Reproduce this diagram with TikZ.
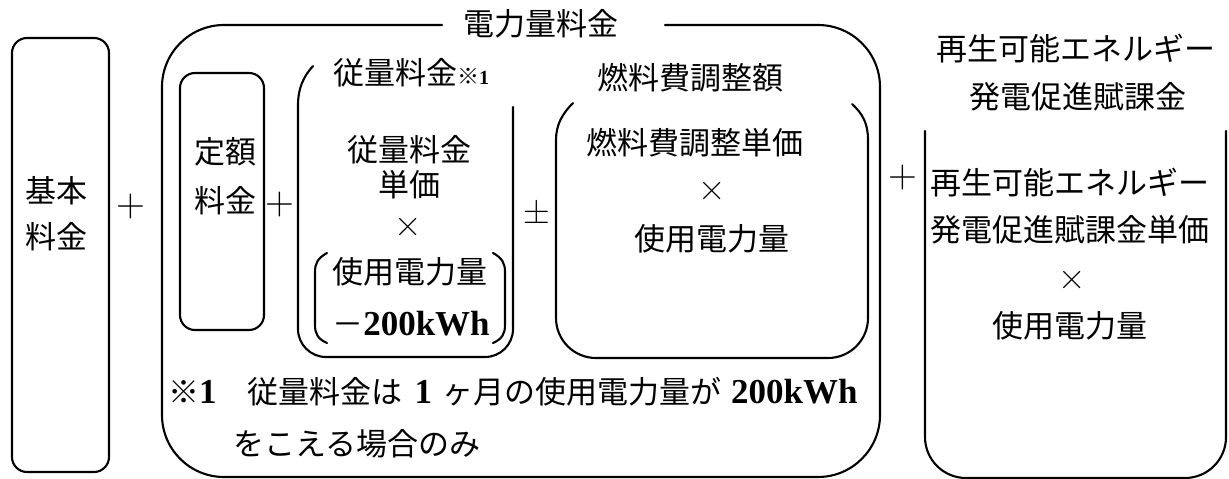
\documentclass[tikz,border=0pt]{standalone}
\usepackage{fontspec}
\newfontfamily\jp{Noto Sans CJK JP}
\newfontfamily\lib{Liberation Serif}
\newfontfamily\lmr{Latin Modern Roman}
\begin{document}
\begin{tikzpicture}[x=1pt,y=1pt,
  ln/.style={line width=2.1pt, line join=round, line cap=round},
  jtxt/.style={font=\jp\fontsize{31}{31}\selectfont, inner sep=0pt},
  sym/.style={font=\lmr\fontsize{40}{40}\selectfont, inner sep=0pt},
  num/.style={font=\lib\bfseries\fontsize{35}{35}\selectfont}]
\useasboundingbox (0,0) rectangle (1229,-479);

% --- boxes ---
\draw[ln, rounded corners=15] (12,-38) rectangle (109,-472);
\draw[ln, rounded corners=62] (442,-25) -- (162,-25) -- (162,-477) -- (880,-477) -- (880,-25) -- (665,-25);
\draw[ln, rounded corners=15] (180,-73) rectangle (264,-330);
% juuryou box (open top)
\draw[ln] (313,-66) .. controls (303,-77) and (298,-89) .. (298,-105)
  -- (298,-329) arc[start angle=180, end angle=270, radius=28]
  -- (485,-357) arc[start angle=270, end angle=360, radius=28]
  -- (513,-107);
% parentheses
\draw[ln] (327,-253) .. controls (318,-258) and (315,-263) .. (315,-272)
  -- (315,-325) .. controls (315,-334) and (318,-339) .. (327,-343);
\draw[ln] (493,-253) .. controls (502,-258) and (505,-263) .. (505,-272)
  -- (505,-325) .. controls (505,-334) and (502,-339) .. (493,-343);
% fuel box
\draw[ln] (573,-103) .. controls (562,-114) and (556,-125) .. (556,-140)
  -- (556,-318) arc[start angle=180, end angle=270, radius=40]
  -- (828,-358) arc[start angle=270, end angle=360, radius=40]
  -- (868,-140) .. controls (868,-124) and (863,-114) .. (852,-104);
% renewable box
\draw[ln] (925,-131) -- (925,-437) arc[start angle=180, end angle=270, radius=41]
  -- (1185,-478) arc[start angle=270, end angle=360, radius=41] -- (1226,-131);

% --- texts ---
\node[jtxt] (k1) at (56,-191) {基本};
\node[jtxt] (k2) at (56,-237) {料金};
\node[sym] (p1) at (131,-207) {+};
\node[jtxt] (title) at (541,-24) {電力量料金};
\node[jtxt] (t1) at (225,-152) {定額};
\node[jtxt] (t2) at (225,-201) {料金};
\node[sym] (p2) at (280,-205) {+};
\node[anchor=base west, inner sep=0pt] (jtitle) at (333,-84)
  {{\jp\fontsize{31}{31}\selectfont 従量料金}{\jp\fontsize{22}{22}\selectfont ※}{\lib\bfseries\fontsize{20}{20}\selectfont 1}};
\node[jtxt] (j1) at (409,-150) {従量料金};
\node[jtxt] (j2) at (409,-185) {単価};
\node[sym, font=\lmr\fontsize{38}{38}\selectfont] (j3) at (408,-227) {×};
\node[jtxt] (j4) at (410,-272) {使用電力量};
\node[anchor=base, inner sep=0pt] (j5) at (411,-335)
  {{\jp\fontsize{31}{31}\selectfont －}{\lib\bfseries\fontsize{35}{35}\selectfont 200kWh}};
\node[sym, font=\lmr\fontsize{37}{37}\selectfont] (pm) at (537,-212) {±};
\node[jtxt] (ftitle) at (690,-78) {燃料費調整額};
\node[jtxt] (f1) at (695,-143) {燃料費調整単価};
\node[sym, font=\lmr\fontsize{38}{38}\selectfont] (f2) at (712,-191) {×};
\node[jtxt] (f3) at (712,-239) {使用電力量};
\node[anchor=base west, inner sep=0pt] (note1) at (168,-403)
  {{\jp\fontsize{31}{31}\selectfont ※}{\lib\bfseries\fontsize{35}{35}\selectfont 1}{\jp\fontsize{31}{31}\selectfont 　従量料金は}\hspace{12pt}{\lib\bfseries\fontsize{35}{35}\selectfont 1}\hspace{10pt}{\jp\fontsize{31}{31}\selectfont ヶ月の使用電力量が}\hspace{10pt}{\lib\bfseries\fontsize{35}{35}\selectfont 200kWh}};
\node[jtxt, anchor=west] (note2) at (233,-444) {をこえる場合のみ};
\node[sym] (p3) at (903,-178) {+};
\node[jtxt] (r1) at (1076,-49) {再生可能エネルギー};
\node[jtxt] (r2) at (1078,-97) {発電促進賦課金};
\node[jtxt] (r3) at (1070,-183) {再生可能エネルギー};
\node[jtxt] (r4) at (1070,-230) {発電促進賦課金単価};
\node[sym, font=\lmr\fontsize{38}{38}\selectfont] (r5) at (1072,-280) {×};
\node[jtxt] (r6) at (1070,-326) {使用電力量};
\end{tikzpicture}
\end{document}
